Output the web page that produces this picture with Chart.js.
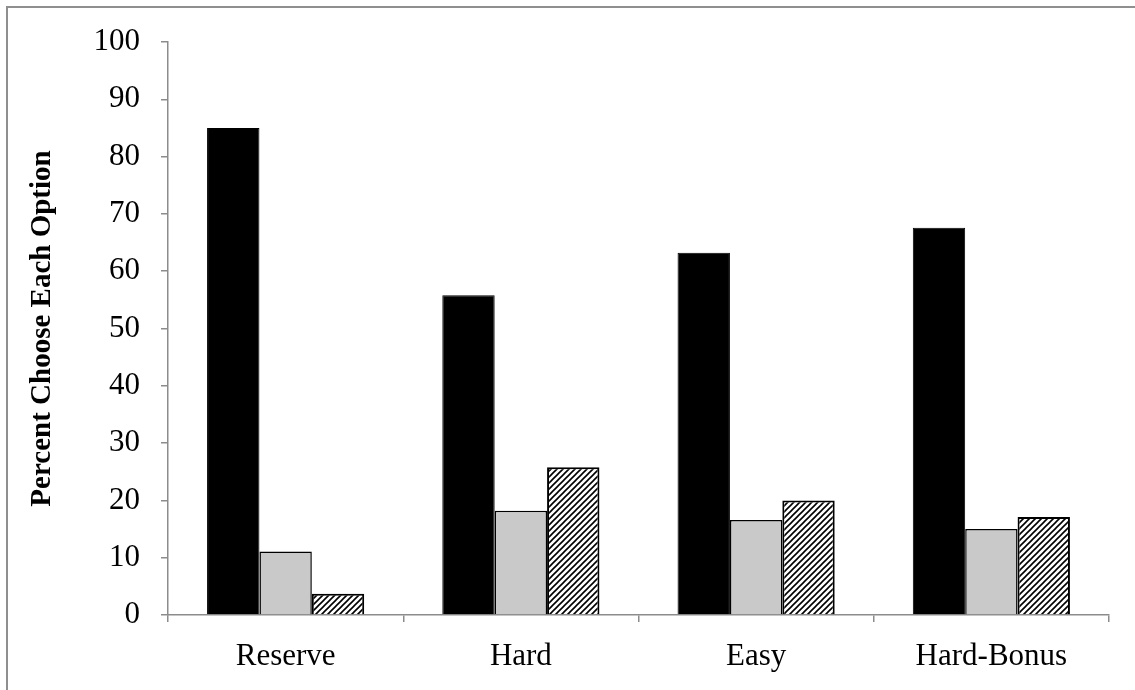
<!DOCTYPE html>
<html>
<head>
<meta charset="utf-8">
<script src="https://cdn.jsdelivr.net/npm/chart.js@4.4.1/dist/chart.umd.min.js"></script>
<style>
  html, body { margin: 0; padding: 0; background: #fff; }
  #wrap { position: relative; width: 1135px; height: 690px; overflow: hidden; }
  #frame { position: absolute; left: 6px; top: 6px; width: 1140px; height: 700px; border-left: 2px solid #8f8f8f; border-top: 2px solid #8f8f8f; }
  #chart { position: absolute; left: 0; top: 0; }
</style>
</head>
<body>
<div id="wrap">
  <div id="frame"></div>
  <canvas id="chart" width="1135" height="690"></canvas>
</div>
<script>
const categories = ["Reserve", "Hard", "Easy", "Hard-Bonus"];
const blackValues = [85.0, 55.8, 63.2, 67.6];
const grayValues = [11.1, 18.2, 16.6, 15.0];
const hatchValues = [3.7, 25.8, 20.0, 17.1];
const yTicks = [0, 10, 20, 30, 40, 50, 60, 70, 80, 90, 100];

const AXIS = "#8c8c8c";
const SERIF = "'Liberation Serif', 'Times New Roman', serif";

function hatchPattern() {
  const c = document.createElement("canvas");
  c.width = 6; c.height = 6;
  const g = c.getContext("2d");
  g.fillStyle = "#fff";
  g.fillRect(0, 0, 6, 6);
  g.strokeStyle = "#000";
  g.lineWidth = 1.6;
  g.beginPath();
  g.moveTo(-1, 7); g.lineTo(7, -1);
  g.moveTo(-4, 4); g.lineTo(4, -4);
  g.moveTo(2, 10); g.lineTo(10, 2);
  g.stroke();
  return g.createPattern(c, "repeat");
}

const bar = { categoryPercentage: 0.668, barPercentage: 1.0 };

new Chart(document.getElementById("chart"), {
  type: "bar",
  data: {
    labels: categories,
    datasets: [
      { label: "black", data: blackValues, backgroundColor: "#000", borderColor: "#000", borderWidth: 1, ...bar },
      { label: "gray", data: grayValues, backgroundColor: "#c9c9c9", borderColor: "#000", borderWidth: 1.5, ...bar },
      { label: "hatched", data: hatchValues, backgroundColor: hatchPattern(), borderColor: "#000", borderWidth: 2, ...bar },
    ],
  },
  options: {
    responsive: false,
    animation: false,
    layout: { padding: { left: 0, top: 42, right: 26, bottom: 0 } },
    plugins: { legend: { display: false }, tooltip: { enabled: false } },
    scales: {
      x: {
        afterFit: (s) => { s.height = 75; },
        grid: { offset: true, drawOnChartArea: false, drawTicks: true, tickLength: 7, color: AXIS, lineWidth: 1.5 },
        border: { color: AXIS, width: 1.5 },
        ticks: { color: "#000", font: { family: SERIF, size: 31 }, padding: 16 },
      },
      y: {
        min: 0,
        max: 100,
        afterFit: (s) => { s.width = 168; },
        afterBuildTicks: (s) => { s.ticks = yTicks.map((v) => ({ value: v })); },
        grid: { drawOnChartArea: false, drawTicks: true, tickLength: 7, color: AXIS, lineWidth: 1.5 },
        border: { color: AXIS, width: 1.5 },
        ticks: { color: "#000", font: { family: SERIF, size: 31 }, padding: 21 },
        title: {
          display: true,
          text: "Percent Choose Each Option",
          color: "#000",
          font: { family: SERIF, size: 29, weight: "bold" },
          padding: { top: 25, bottom: 0 },
        },
      },
    },
  },
});
</script>
</body>
</html>
